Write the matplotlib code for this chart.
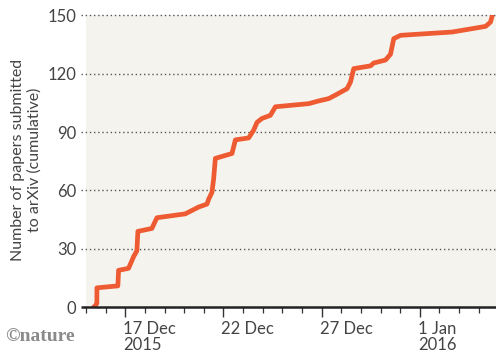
import matplotlib
matplotlib.use("Agg")
import matplotlib.pyplot as plt
import matplotlib.dates as mdates
import matplotlib.transforms as mtransforms
import pandas as pd

# Cumulative count of papers submitted to arXiv
times = [
    "2015-12-15 09:10", "2015-12-15 11:40", "2015-12-15 13:15", "2015-12-15 13:20",
    "2015-12-16 14:55", "2015-12-16 15:50", "2015-12-17 04:00", "2015-12-17 10:10",
    "2015-12-17 14:10", "2015-12-17 15:25", "2015-12-18 08:30", "2015-12-18 14:40",
    "2015-12-20 01:25", "2015-12-20 17:40", "2015-12-21 03:50", "2015-12-21 05:55",
    "2015-12-21 09:55", "2015-12-21 12:00", "2015-12-21 14:05", "2015-12-21 18:10",
    "2015-12-22 10:25", "2015-12-22 14:35", "2015-12-23 06:50", "2015-12-23 12:55",
    "2015-12-23 17:00", "2015-12-23 23:05", "2015-12-24 09:20", "2015-12-24 15:30",
    "2015-12-26 08:10", "2015-12-26 20:25", "2015-12-27 08:40", "2015-12-27 16:50",
    "2015-12-28 07:05", "2015-12-28 11:15", "2015-12-28 15:15", "2015-12-29 11:40",
    "2015-12-29 15:45", "2015-12-30 06:00", "2015-12-30 12:10", "2015-12-30 16:10",
    "2015-12-31 00:25", "2016-01-02 15:30", "2016-01-04 08:25", "2016-01-04 14:25",
    "2016-01-04 16:25",
]
papers = [
    0, 1, 2, 10,
    11, 19, 20, 26,
    29, 39, 40.5, 46,
    48, 51.5, 53, 55.5,
    59, 66, 76.5, 77,
    79, 86, 87, 91,
    95, 97, 98.6, 103,
    104.6, 106, 107.2, 109,
    112.3, 115.7, 122.6, 124,
    125.5, 127, 130, 138,
    139.7, 141.4, 144.3, 146.5,
    149.5,
]
y_ticks = [0, 30, 60, 90, 120, 150]
x_tick_dates = ["2015-12-17", "2015-12-22", "2015-12-27", "2016-01-01"]
x_tick_labels = ["17 Dec\n2015", "22 Dec", "27 Dec", "1 Jan\n2016"]

plt.rcParams["font.family"] = ["Lato", "DejaVu Sans"]
text_color = "#444444"

t = pd.to_datetime(times)

fig = plt.figure(figsize=(4.96, 3.52), dpi=100)
fig.patch.set_facecolor("white")
ax = fig.add_axes([0.1734, 0.1270, 0.8266, 0.8296])
ax.set_facecolor("#f5f3ed")

ax.plot(t, papers, color="#ee5a32", lw=3.4, solid_joinstyle="round",
        solid_capstyle="round", zorder=3)

x0 = pd.Timestamp("2015-12-15 00:00")
x1 = x0 + pd.Timedelta(days=20.88)
ax.set_xlim(x0, x1)
ax.set_ylim(0, 150)

for s in ["top", "right", "left", "bottom"]:
    ax.spines[s].set_visible(False)

# Dotted gridlines running slightly past the left edge of the panel
trans = ax.get_yaxis_transform()
for v in y_ticks[1:]:
    ax.plot([-0.012, 1.0], [v, v], transform=trans, color="#555555",
            lw=1.0, ls=(0, (1, 2)), clip_on=False, zorder=2)
ax.plot([-0.012, 1.0], [0, 0], transform=trans, color="#222222",
        lw=1.8, clip_on=False, zorder=4, solid_capstyle="butt")

ax.set_yticks(y_ticks)
ax.set_yticklabels([str(v) for v in y_ticks])
ax.tick_params(axis="y", length=0, pad=7, labelsize=12, labelcolor=text_color)

ax.set_xticks(pd.to_datetime(x_tick_dates))
ax.set_xticklabels(x_tick_labels, ha="left", linespacing=1.0)
ax.xaxis.set_minor_locator(mdates.DayLocator())
ax.tick_params(axis="x", which="major", length=7, width=1.0, color="#333333",
               pad=3, labelsize=12, labelcolor=text_color, direction="out")
ax.tick_params(axis="x", which="minor", length=4, width=0.9, color="#333333",
               direction="out")
offset = mtransforms.ScaledTranslation(-2 / 100, 0, fig.dpi_scale_trans)
for lab in ax.get_xticklabels():
    lab.set_transform(lab.get_transform() + offset)

fig.text(0.053, 0.545, "Number of papers submitted\nto arXiv (cumulative)",
         rotation=90, ha="center", va="center", fontsize=11.5,
         color=text_color, linespacing=1.2, multialignment="center")

fig.text(0.010, 0.030, "\u00a9nature", fontsize=14, family="Liberation Serif",
         weight="bold", color="#8a8a8a", ha="left", va="baseline")

fig.savefig("out.png", dpi=100)
